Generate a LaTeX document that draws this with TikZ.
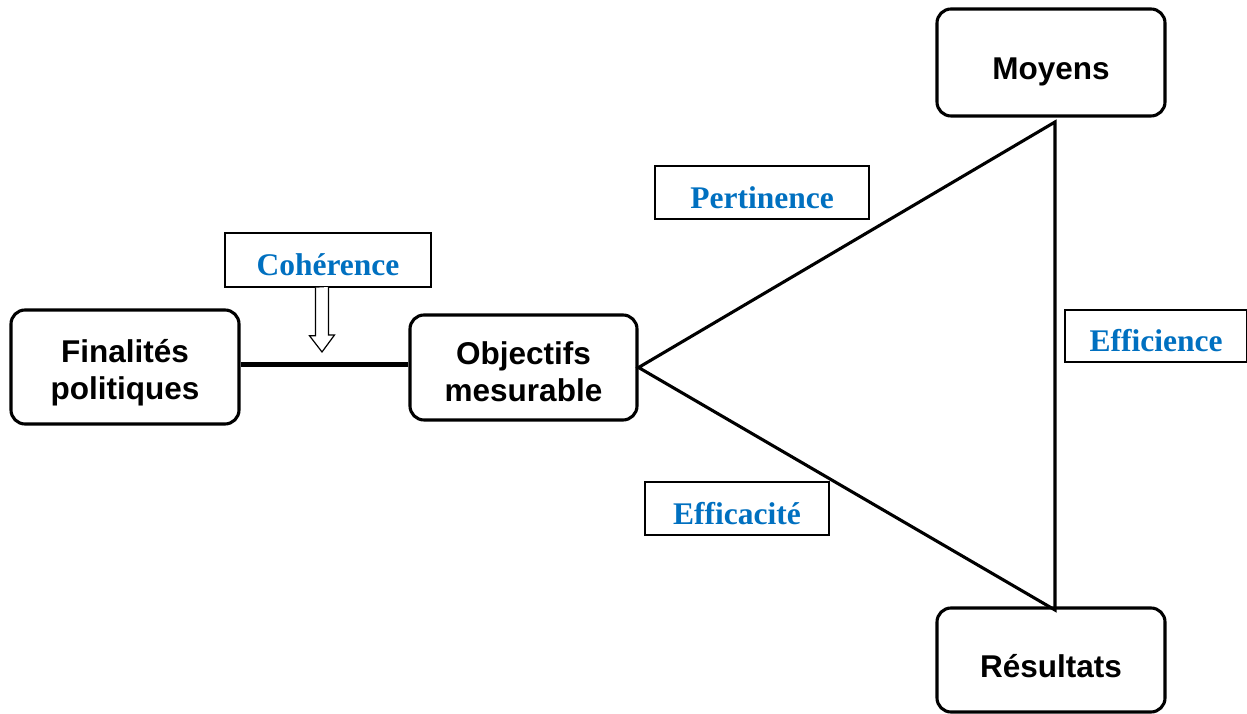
\documentclass[tikz,border=0pt]{standalone}
\usepackage{fontspec}
\setmainfont{Liberation Sans}
\newfontfamily\critfont{Liberation Serif}
\usepackage{xcolor}
\usepackage{tikz}

\definecolor{critColor}{RGB}{0,112,192}
\tikzset{
  block/.style={draw,line width=3.1pt,rounded corners=14pt,fill=white,align=center,
    font=\fontsize{31.5}{37}\selectfont\bfseries,inner sep=0pt},
  oneline/.style={text height=42pt,text depth=7pt},
  twoline/.style={text height=73pt,text depth=7pt},
  crit/.style={draw,line width=1.5pt,fill=white,text=critColor,
    font=\critfont\fontsize{31.5}{36}\selectfont\bfseries,inner sep=0pt,
    text height=37pt,text depth=5pt},
  edge/.style={line width=3.1pt},
  hollow/.style={line width=1.2pt,fill=white,line join=miter}
}

\begin{document}
\begin{tikzpicture}[x=1pt,y=1pt]
\useasboundingbox (0,0) rectangle (1247,714);

% boxes
\node[block,twoline,minimum width=228,minimum height=114] (fin) at (125,347) {Finalités\\politiques};
\node[block,twoline,text height=76pt,minimum width=227,minimum height=105] (obj) at (523.5,346.5) {Objectifs\\mesurable};
\node[block,oneline,minimum width=228,minimum height=107] (moy) at (1051,651.5) {Moyens};
\node[block,oneline,minimum width=228,minimum height=104] (res) at (1051,54) {Résultats};

% triangle
\coordinate (top) at (1055,592);
\coordinate (bot) at (1055,104);
\draw[line width=5pt] ([yshift=2pt]fin.east) -- ([yshift=2pt]fin.east -| obj.west);
\draw[edge] (obj.east) -- (top) -- (bot) -- cycle;

% criteria
\node[crit,minimum width=206,minimum height=54] (coh) at (328,454) {Cohérence};
\node[crit,minimum width=214,minimum height=53] (per) at (762,521.5) {Pertinence};
\node[crit,minimum width=182,minimum height=52] (eff) at (1156,378) {Efficience};
\node[crit,minimum width=184,minimum height=53] (eca) at (737,205.5) {Efficacité};

\coordinate (tip) at (322,362);
\draw[hollow] (coh.south -| tip) ++(-6.5,0) -- ++(0,-48) -- ++(-6,0) -- (tip)
  -- ++(12.5,17) -- ++(-6,0) -- ++(0,48);
\end{tikzpicture}
\end{document}
